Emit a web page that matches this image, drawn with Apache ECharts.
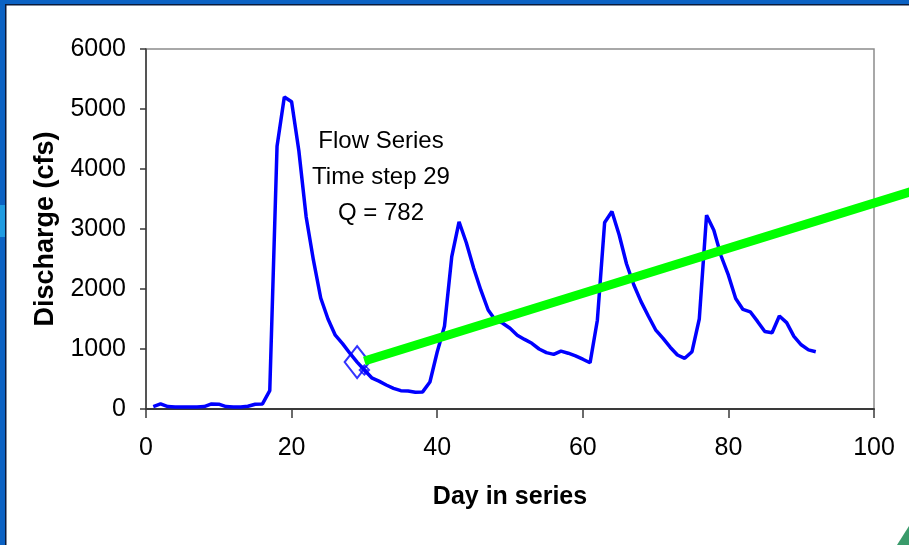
<!DOCTYPE html>
<html>
<head>
<meta charset="utf-8">
<script src="https://cdn.jsdelivr.net/npm/echarts@6/dist/echarts.min.js"></script>
<style>
  html, body { margin: 0; padding: 0; background: #ffffff; }
  #chart { width: 909px; height: 545px; }
</style>
</head>
<body>
<div id="chart"></div>
<script>
// Daily discharge (cfs), starting on day 1
const firstDay = 1;
const flow = [
  40, 85, 40, 35, 35, 35, 35, 40, 85, 80,
  40, 35, 35, 45, 80, 85, 305, 4380, 5200, 5120,
  4300, 3200, 2480, 1850, 1500, 1230, 1090, 930, 782, 650,
  520, 465, 400, 345, 305, 300, 280, 285, 450, 950,
  1380, 2540, 3120, 2770, 2350, 1980, 1650, 1480, 1430, 1345,
  1230, 1160, 1095, 1000, 940, 910, 965, 930, 885, 830,
  770, 1480, 3110, 3290, 2900, 2420, 2070, 1790, 1550, 1320,
  1180, 1030, 900, 845, 955, 1500, 3230, 2980, 2550, 2230,
  1840, 1660, 1620, 1460, 1290, 1270, 1550, 1440, 1210, 1070,
  985, 955
];

// Current time step shown in the note
const currentStep = 29;

// Trend line (day, discharge); it runs on past the right edge of the plot
const trendDays = [30, 105];
const trendValues = [800, 3620];

// Axis ticks
const xTicks = [0, 20, 40, 60, 80, 100];
const yTicks = [0, 1000, 2000, 3000, 4000, 5000, 6000];

const flowPoints = flow.map((q, i) => [firstDay + i, q]);
const currentPoint = [[currentStep, flow[currentStep - 1]]];
const nextPoint = [[currentStep + 1, flow[currentStep]]];

const FONT = "'Liberation Sans', Arial, sans-serif";
const AXIS_COLOR = '#3a3a3a';

const chart = echarts.init(document.getElementById('chart'), null, { renderer: 'canvas' });

const frame = [
  // slide frame
  { type: 'rect', shape: { x: 0, y: 0, width: 909, height: 4 }, style: { fill: '#0b62c4' }, z: 100 },
  { type: 'rect', shape: { x: 0, y: 0, width: 5, height: 545 }, style: { fill: '#0b62c4' }, z: 100 },
  { type: 'rect', shape: { x: 0, y: 205, width: 5, height: 32 }, style: { fill: '#1f9be2' }, z: 101 },
  { type: 'rect', shape: { x: 5, y: 4, width: 904, height: 1.5 }, style: { fill: '#0a1a3a' }, z: 100 },
  { type: 'rect', shape: { x: 5, y: 4, width: 1.5, height: 541 }, style: { fill: '#0a1a3a' }, z: 100 },
  { type: 'polygon', shape: { points: [[897, 545], [909, 526], [909, 545]] }, style: { fill: '#3a9b6b' }, z: 100 },
  // note
  {
    type: 'text',
    x: 381, y: 123,
    style: {
      text: 'Flow Series\nTime step ' + currentStep + '\nQ = ' + flow[currentStep - 1],
      font: '24px ' + FONT,
      fill: '#000',
      align: 'center',
      verticalAlign: 'top',
      lineHeight: 36
    },
    z: 50
  }
];

chart.setOption({
  animation: false,
  backgroundColor: '#ffffff',
  grid: {
    left: 146, right: 35, top: 49, bottom: 136,
    show: true, borderColor: '#8c8c8c', borderWidth: 1.5, backgroundColor: 'transparent'
  },
  xAxis: {
    type: 'value',
    min: xTicks[0], max: xTicks[xTicks.length - 1], interval: xTicks[1] - xTicks[0],
    name: 'Day in series',
    nameLocation: 'middle',
    nameGap: 76,
    nameTextStyle: { fontFamily: FONT, fontSize: 25, fontWeight: 'bold', color: '#000' },
    axisLine: { show: true, lineStyle: { color: AXIS_COLOR, width: 2 } },
    axisTick: { show: true, length: 9, lineStyle: { color: AXIS_COLOR, width: 1.5 } },
    axisLabel: { fontFamily: FONT, fontSize: 25, color: '#000', margin: 27 },
    splitLine: { show: false }
  },
  yAxis: {
    type: 'value',
    min: yTicks[0], max: yTicks[yTicks.length - 1], interval: yTicks[1] - yTicks[0],
    name: 'Discharge (cfs)',
    nameLocation: 'middle',
    nameGap: 79,
    nameTextStyle: { fontFamily: FONT, fontSize: 27, fontWeight: 'bold', color: '#000' },
    axisLine: { show: true, lineStyle: { color: AXIS_COLOR, width: 1.5 } },
    axisTick: { show: true, length: 6, lineStyle: { color: AXIS_COLOR, width: 1.5 } },
    axisLabel: { fontFamily: FONT, fontSize: 25, color: '#000', margin: 20, formatter: v => String(v) },
    splitLine: { show: false }
  },
  series: [
    {
      name: 'Flow',
      type: 'line',
      data: flowPoints,
      showSymbol: false,
      lineStyle: { color: '#0000ff', width: 3.5 },
      z: 3
    },
    {
      name: 'Current',
      type: 'scatter',
      data: currentPoint,
      symbol: 'diamond',
      symbolSize: [25, 32],
      itemStyle: { color: 'transparent', borderColor: '#0000ff', borderWidth: 2 },
      z: 5
    },
    {
      name: 'Next',
      type: 'scatter',
      data: nextPoint,
      symbol: 'path://M0,-5L5,0L0,5L-5,0Z M-5,0L5,0 M0,-5L0,5',
      symbolSize: 10,
      itemStyle: { color: 'transparent', borderColor: '#0000ff', borderWidth: 1.5 },
      z: 5
    }
  ],
  graphic: frame
});

// The trend line is not clipped to the plot, so it is placed through the axis scales
const trendPixels = trendDays.map((d, i) => chart.convertToPixel({ gridIndex: 0 }, [d, trendValues[i]]));
chart.setOption({
  graphic: frame.concat([{
    type: 'polyline',
    shape: { points: trendPixels },
    style: { stroke: '#00ff00', lineWidth: 9, lineCap: 'butt', fill: null },
    z: 40
  }])
});
</script>
</body>
</html>
